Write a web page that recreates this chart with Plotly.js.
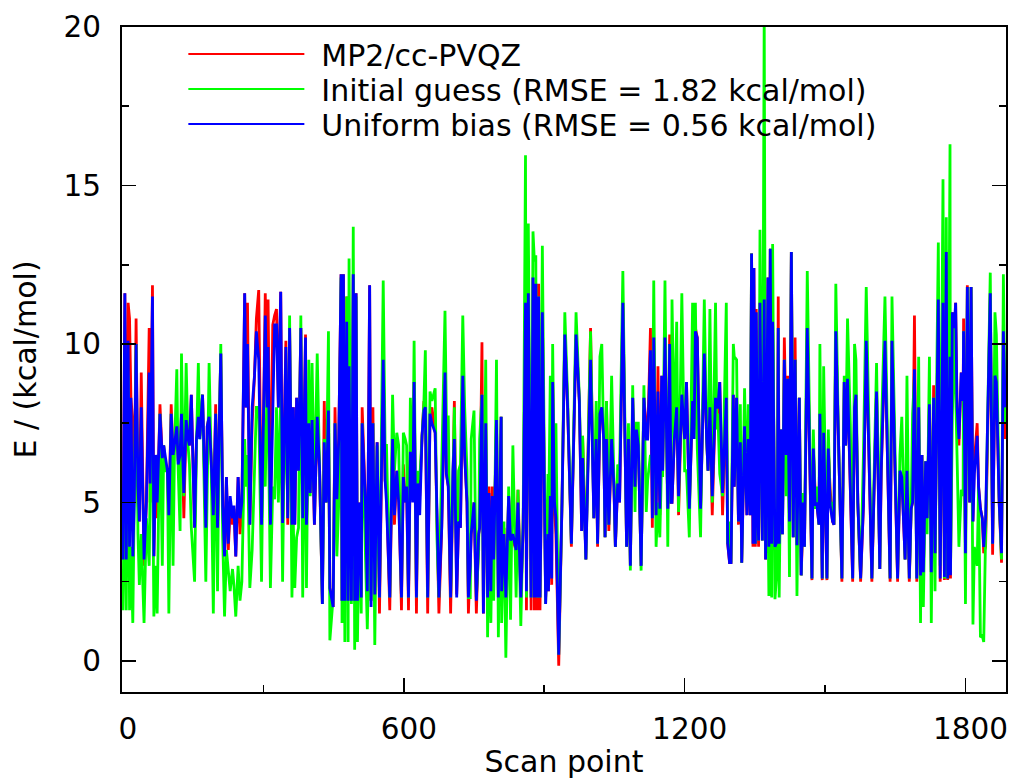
<!DOCTYPE html>
<html>
<head>
<meta charset="utf-8">
<script src="https://cdn.plot.ly/plotly-3.0.1.min.js"></script>
<style>html,body{margin:0;padding:0;background:#fff}#chart{width:1009px;height:779px}</style>
</head>
<body>
<div id="chart"></div>
<script>
// Scan points and energies (kcal/mol), section by section.
const scanA=[0,4,7,11,14,17,21,24,28,32,35,39,45,50,56,58,63,66,70,73,79,84,87,90,95,98,103,107,110,115,118,122,125,130,135,139,142,146,153,157,161,164,170,177,180,184,188,193,198,202,205,209,213,217,221,225,229,234,237,241,246,250,254,260,263,266,271,276,281,285,290,296,300,304,308];
const blueA=[3.2,11.6,3.2,10.1,3.6,8.3,3.3,5,10,5.5,4.4,8,3.2,5,9.1,5.6,11.5,3.3,6.5,5,7.8,6.4,6.8,6.5,6,4.6,7.8,6.5,6.8,7.4,6.2,6.5,7.8,5.3,7.6,7,6.8,8.4,4.2,7,7.7,7,8.4,4.2,7.4,7.7,6.5,4.6,7.8,4.2,7,9.7,4.9,3.3,5.8,3.7,5.2,4.5,4.9,3.3,5.8,4.5,5,11.6,8,10,4.3,8,9,10.4,9.5,4.3,7.5,10.9,8];
const redA=[3.2,11.6,3.3,11.3,10.8,8.3,7.5,5,10.8,5,4.4,9.1,3,5,10.5,5,11.85,3.3,6.5,4.5,8.1,6.4,6.8,6.2,6,4.4,8.1,6.5,6.7,7.4,6.3,6.5,7.8,4.5,7.6,7,6.8,8.4,4.2,7,7.6,7.1,8.4,4.2,7.4,7.7,6.5,4.6,8.1,4.2,7,9.7,4.9,3.3,5.8,3.5,4.8,4.3,4.8,3.3,5.8,4,4.8,11.6,8,11.3,4.3,7.5,9,10.8,11.7,4.3,7.5,11.6,8];
const greenA=[1.6,7,1.6,9,1.6,3.6,1.2,5,10,4,2.4,4,1.2,4.5,3,5.5,7,1.4,3,1.5,7.8,3,6.8,6,6,1.5,7.8,3,6.6,9.2,6,4.1,9.7,5.2,9.4,6.8,6.2,4.2,2.5,6.8,9.4,7,8.4,2.5,6,9.4,6.6,1.5,7.8,2.2,6.5,10,3.9,1.4,3.5,2.7,2.2,2.9,2.4,1.4,3,1.9,2.5,7,5.5,6.5,2.3,3.5,6,8,8,2.5,7.5,5.5,9];

const scanB=[310,315,320,324,328,332,337,341,345,348,352,356,361,364,367,371,375,380,384,390,392,397,400,404,409,415,420,426,430,434,439,442,449,453,457,461,466,468,471,474,478,481,483,488,492,495,498,501,505,509,511,515,518,522,527,530,534,538,543,548,556,560,563,570,576,580,585,589,595,599,603,606,610,614,619,622,627];
const blueB=[9.9,4.3,8.5,10.6,10.6,8,11.65,4.35,7.5,9.9,4.5,10.5,4.3,8,4.3,8.3,6,10.5,4.5,10.2,4.3,7.5,5.3,7.6,4.3,7.7,6.1,1.8,6.9,5,7.9,2.3,1.7,7.5,5.1,7,12.2,1.9,12.2,1.9,10.7,1.9,9.3,1.9,12.2,1.9,11.6,1.9,5,2,7.5,6,5,2.2,11.85,1.7,7.5,2.1,6.9,2,9.5,5.7,5,2,7,4.6,6,5,2,5.8,5,5.5,2,6.6,5,8.8,2];
const redB=[11.4,4.3,10.6,10.9,11.1,8,11.65,4.35,8.2,10.1,4.3,10.5,4.3,8,4.3,8.3,6,10.5,4.5,10.3,4.3,7.5,5.3,7.6,4.3,7.7,6,1.8,8.2,5,7.9,2.3,1.7,8,5.1,7,12.2,1.9,12.2,1.9,11.5,1.9,9.3,1.9,12.2,1.9,11.6,1.9,5,2,8,6,5,2.2,11.85,1.9,8,2.1,6.9,1.5,9.5,5.7,5.4,1.6,7,4.3,6,5.4,1.6,6.2,5,5.5,1.6,6.6,5.2,8.8,1.5];
const greenB=[8,2.3,5.5,5.1,8,5,8.5,2.5,7.5,7,5,10.9,2,4.3,2.3,3.9,4.2,10.9,2,9.2,2.3,9.5,5.2,9.4,5.2,9.7,6,1.8,7,5,10.4,.65,2,7.5,3.3,5,12.1,1.2,11.6,.6,11.5,.6,12.7,1.8,13.7,.35,11.5,.6,4.7,1.5,7.5,5.1,4,1,4.5,1.9,7.5,.5,6.8,2,12,6.8,6.8,2,8.4,6,7.2,6.8,2,7.2,7,6.8,2,8.3,5.5,10.1,2];

const scanC=[630,634,639,643,646,651,656,660,667,671,675,681,688,691,695,700,705,708,713,717,721,726,730,735,738,742,744,750,755,760,762,767,770,775,779,782,786,789,792,798,802,808,809,814,818,824,828,833,840,844,850,855,860,862,866,872,876,879,882,885,888,891,893,896,903,908,909,913,916,918,922,925,931,938,944];
const blueC=[5.6,4.6,7.1,7.9,8,2,7.8,7.5,7.2,4,2,4.2,9.1,5.9,5.5,2,6,7,2,4.4,4.2,9,6.5,5,2,3,4,5,1.9,4,4.2,8.4,1.5,7.5,2,5.3,2.2,5.2,3.2,7.6,2,7.7,2.2,4,2,5.2,3.8,4,3.5,5,2,4.2,11.3,2.2,11.6,2,12.1,2,11.9,2,11.5,2,4.3,11,1.8,4,2.2,5.2,2.6,8.8,5,4.5,.2,5,10.3];
const redC=[5.6,5.2,7.1,8.2,8,1.5,7.8,8,7.2,4,1.5,4.2,9.1,5.9,5.5,1.5,6,8.2,2.1,4.4,4.2,9,6.5,5,1.5,3,4,5,1.5,4,4.2,10.05,1.5,7.5,2,5.5,2.2,5.5,3.2,7.6,2,7.7,2.2,4.2,2,5.2,4.2,3.8,3.5,5.4,2,4.2,11.3,1.6,11.6,1.6,12.1,1.6,11.9,1.6,11.9,1.6,4.3,11,2,4,2.2,5.2,2.4,8.8,4.8,4,-.15,5,10.3];
const greenC=[6,5.7,7.2,8.2,9.8,2,8.5,8.2,8.6,3.8,2,6,11.05,7.7,7.7,2,6,8,3,6,6.2,10.9,8,6,2,2,7,7.9,2,3.5,7,8.4,2,9.5,.75,4,1.2,4.5,1.9,9.5,.75,7.7,1.2,4.4,.1,5.5,1.3,6.8,2,5.4,1.1,4.5,15.95,2,13.8,2,13.55,12.6,12.8,2,11.5,2,7.5,13.1,1.8,5.9,4,9,4,10,5,7.5,.2,5,11];

const scanD=[950,958,968,975,980,982,989,999,1006,1011,1014,1019,1023,1027,1030,1033,1038,1044,1049,1052,1057,1061,1068,1076,1080,1084,1089,1094,1097,1101,1107,1113,1118,1121,1127,1131,1134,1139,1143,1147,1151,1153,1158,1164,1168,1171,1173,1178,1183,1187,1194,1200,1204,1210,1217,1220,1223,1227,1234,1242,1247,1250,1254,1259,1266,1269];
const blueD=[8,3.7,10.3,8.2,4.1,6.4,3.2,9.5,4.5,7,3.7,7.8,8,7,3.9,7,4.3,7,5.5,3.6,5.6,5,11.3,3.6,7,3,8.3,5.5,7.3,6.8,3,8.3,7,7,9.8,4.5,10.2,4.6,8.5,4.8,9,6,10.2,4.8,10,5,5,7,8,5.2,8.4,7,8.8,4.8,8.2,7,10.4,10.2,4.8,9.7,7,6,8,5.2,8.3,8];
const redD=[8,3.6,10.3,8.2,4.1,7.1,3.2,10.5,4.5,7,3.6,7.8,8,7,3.9,8.2,4.1,7,5.5,3.6,5.6,5,11.3,3.6,7,3,8.3,5.5,7.4,6.8,3,8.3,7.4,7,10.5,4.2,10.2,4.6,9.3,4.6,9,6,10.2,4.8,10.3,5,5,7,8.2,4.6,8.4,7,8.8,4.8,8.2,7.4,10.5,10.2,4.8,9.7,7,6,8,4.6,8.3,7.5];
const greenD=[8.3,3.7,11,8.3,5,7.1,3.2,10.4,4.5,8.2,3.7,9.6,10,7,3.9,8.2,4.3,9,5.5,3.6,6.2,6,12.3,3.6,7.5,2.85,8.7,4.7,7.5,7.5,2.85,8.7,4.7,5.7,6.5,6.2,12,3.6,5,3.9,6.5,5.8,12,3.6,10,5,11.4,7,10.7,4.7,11.6,6,6,3.9,11.3,7,11.3,6.7,3.9,11.4,7,6,11.1,5,11.3,7.3];

const scanE=[1271,1275,1281,1289,1292,1296,1299,1304,1306,1311,1315,1319,1322,1328,1333,1336,1340,1343,1346,1348,1351,1353,1356,1358,1361,1366,1370,1373,1378,1380,1383,1386,1388,1393,1398,1400,1402,1406,1409,1413,1417,1420,1424,1428,1432,1436,1440,1445,1449,1453,1456,1462,1472,1475,1479,1482,1487,1489,1494,1497,1504,1507,1511,1516,1519,1523,1529,1536,1541,1544,1548,1554,1559,1563,1566,1570,1576,1582,1588];
const blueE=[8,8.8,5.3,8.3,3.7,3.1,3.1,8.4,5.5,8.3,4.4,6.9,3.1,7.4,4.6,7,4.6,12.85,3.7,12.4,3.7,11,4.8,3.8,11.3,3.8,11.4,3.2,12.1,3.6,13,3.7,10.7,3.6,3.8,10.5,3.7,7.3,4,9.5,6.5,8.9,4.4,12.9,3.9,9.5,3.65,8.3,2.7,5,3.6,10.5,2.6,6.7,4.9,5,4.3,7.8,2.6,7.2,2.6,6.7,4.9,4.4,4.3,10.4,6.8,2.6,8.8,6.8,8.9,5,2.6,8,8.4,5,2.6,4.9,10.1];
const redE=[8,8.8,4.6,8.3,3.7,3.1,3.1,8.4,5.5,8.3,4.3,6.9,3.1,7.4,4.6,7,4.6,12.85,3.6,12.4,3.6,11.1,4.8,3.6,11.3,3.8,11.4,3.2,12.1,3.7,13,3.7,10.7,3.6,3.8,11.5,3.7,7.3,4,10.2,7.1,9,4.4,12.9,3.9,10.2,3.65,8.3,2.7,4.5,3.6,10.5,2.55,6.7,5.3,5,4.3,7.8,2.55,7.2,2.55,6.7,5.4,4.4,4.3,10.4,6.8,2.5,8.8,6.8,8.9,5.1,2.5,8,8.4,5,2.5,4.9,10.1];
const greenE=[7.8,5.9,5.2,11.3,3.7,4.4,3.1,10,9.6,9.5,4.4,8.1,3.1,8.6,5,8.1,5,12.85,7,7,3.7,8,4.8,3.8,13.6,3.8,20.5,3.4,5,2.05,13,2,13.15,1.95,3,10.5,2,7.3,4,9.5,5.2,8.9,2.65,12.9,3.9,9.5,2.05,8.3,2.7,5.3,3.6,12.3,2.6,7.3,4.8,5.5,4.3,10,2.6,9.3,2.6,7.3,4.9,5,4.3,11.9,6.8,2.6,9,6.8,10.8,7.5,2.6,10,9.5,5,2.6,6.5,11.8];

const scanF=[1600,1610,1617,1620,1628,1639,1643,1655,1660,1664,1671,1675,1680,1684,1687,1691,1696,1700,1704,1707,1710,1715,1718,1723,1727,1732,1735,1739,1742,1746,1752,1755,1759,1762,1767,1768,1772,1776,1779,1782,1786,1791,1795,1796,1800,1804,1809,1812,1816,1819,1825,1828,1832,1836,1839,1843,1849,1853,1858,1863,1866,1872,1877,1881,1885];
const blueF=[2.6,8.5,2.9,6,10.1,2.6,10.1,2.6,6,5.8,3.2,6,2.6,4.8,5,9.2,2.6,8,2.7,6.5,2.8,6.3,4.5,8.1,2.8,8.3,3.4,9,11.4,2.6,11.3,2.65,12.9,2.6,9.6,2.7,11,10.5,11.3,8,7,9.1,8.2,10.4,3.4,11.8,5,11.8,4.4,5.9,7.1,5.5,4.8,4.5,3.6,4.5,8.5,11.6,3.7,9,8.8,5,3.4,10.4,8];
const redF=[2.5,8.5,2.9,5.9,10.1,2.5,10.1,2.5,5.9,5.8,3.2,6,2.5,4.8,5,10.9,2.5,8,2.7,6.5,2.8,6.3,4.5,8.1,2.8,8.7,3.4,9,11.4,2.5,11.3,2.55,12.9,2.55,9.6,2.6,11,9.4,11.3,7.9,6.8,9.1,8.2,10.8,3.4,11.85,5,11.8,4.4,6.3,7.5,5.5,4.8,4.5,3.4,3.6,8.5,11.6,3.35,9,8.8,5,3.1,10.6,7];
const greenF=[2.6,9.4,2.9,7,11.5,2.6,11.5,2.6,6.5,7.7,3.2,9,2.6,4.8,7.8,9,2.6,9.6,1.2,6.5,1.7,6.3,4,9.6,1.2,8.3,2.2,9.5,13.2,3,15.2,2.6,14,2.6,16.3,2.8,7.7,10.5,8.8,6.5,3.6,5.4,5.2,10.4,1.8,11.8,6.9,11.8,1.15,3.6,3,5.5,.75,.8,.6,4.5,9,12.25,3.7,11,10.3,5.2,3.2,12.2,7.5];

const scanPoints=[...scanA,...scanB,...scanC,...scanD,...scanE,...scanF];
const redValues=[...redA,...redB,...redC,...redD,...redE,...redF];
const greenValues=[...greenA,...greenB,...greenC,...greenD,...greenE,...greenF];
const blueValues=[...blueA,...blueB,...blueC,...blueD,...blueE,...blueF];

const seriesNames=['MP2/cc-PVQZ','Initial guess (RMSE = 1.82 kcal/mol)','Uniform bias (RMSE = 0.56 kcal/mol)'];
const xTicks=[0,600,1200,1800];
const yTicks=[0,5,10,15,20];

const FONT='"DejaVu Sans", sans-serif';
function line(name,y,color){
  return {x:scanPoints,y:y,mode:'lines',type:'scatter',name:name,line:{color:color,width:2.8,shape:'linear'}};
}
const axisCommon={showgrid:false,zeroline:false,showline:true,linecolor:'#000',linewidth:2,
  ticks:'inside',ticklen:14,tickwidth:1.6,tickcolor:'#000',tickfont:{family:FONT,size:29.5,color:'#000'}};
const layout={
  width:1009,height:779,paper_bgcolor:'#fff',plot_bgcolor:'#fff',
  margin:{l:122,r:3,t:27,b:87,pad:0},
  font:{family:FONT,color:'#000',size:30},
  xaxis:Object.assign({},axisCommon,{range:[-2.1,1886.6],mirror:true,tickmode:'array',tickvals:xTicks,
    ticklabelstandoff:10,ticklabelshift:5,
    minor:{dtick:300,tick0:0,ticks:'inside',ticklen:7,tickwidth:1.6,tickcolor:'#000'},
    title:{text:'Scan point',standoff:15,font:{family:FONT,size:30,color:'#000'}}}),
  yaxis:Object.assign({},axisCommon,{range:[-0.98,20],mirror:'allticks',tickmode:'array',tickvals:yTicks,
    ticklabelstandoff:13,
    minor:{dtick:2.5,tick0:0,ticks:'inside',ticklen:7,tickwidth:1.6,tickcolor:'#000'},
    title:{text:'E / (kcal/mol)',standoff:18,font:{family:FONT,size:30,color:'#000'}}}),
  showlegend:true,
  legend:{x:0.0694,y:0.995,xanchor:'left',yanchor:'top',bgcolor:'rgba(0,0,0,0)',borderwidth:0,
    itemwidth:116,font:{family:FONT,size:30,color:'#000'},traceorder:'normal'}
};
Plotly.newPlot('chart',[line(seriesNames[0],redValues,'#ff0000'),line(seriesNames[1],greenValues,'#00ff00'),line(seriesNames[2],blueValues,'#0000ff')],layout,{displayModeBar:false,staticPlot:true}).then(function(){
  // The reference's legend rows are packed tighter than Plotly's default row height.
  const rows=document.querySelectorAll('.legend .traces');
  const legend=document.querySelector('.legend');
  const ly=parseFloat(legend.getAttribute('transform').split(',')[1]);
  const box=legend.querySelector('.scrollbox');
  if(box){box.removeAttribute('clip-path');box.style.clipPath='none';}
  legend.removeAttribute('clip-path');
  rows.forEach(function(row,i){
    row.setAttribute('transform','translate(0,'+(54+35*i-ly)+')');
    row.querySelector('.legendtext').setAttribute('x',138);
    row.querySelectorAll('.js-line').forEach(function(p){p.style.strokeWidth='2px';});
  });
});
</script>
</body>
</html>
